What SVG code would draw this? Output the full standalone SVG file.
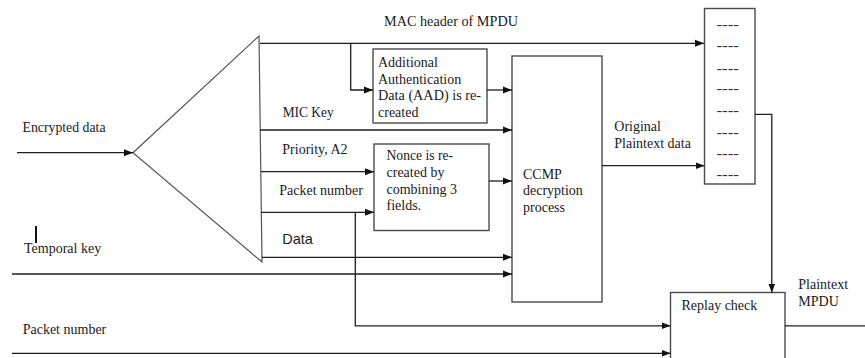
<svg xmlns="http://www.w3.org/2000/svg" width="865" height="358" viewBox="0 0 865 358">
  <style>
    .bg { fill: #ffffff; }
    .box { fill: #ffffff; stroke: #4a4a4a; stroke-width: 1.4; }
    .wire { fill: none; stroke: #1e1e1e; stroke-width: 1.3; }
    .tri { fill: #ffffff; stroke: #555555; stroke-width: 1.2; }
    .t { font-family: "Liberation Serif", "Times New Roman", serif; font-size: 14px; fill: #1a1a1a; }
    .s { font-family: "Liberation Sans", Arial, sans-serif; font-size: 14.5px; fill: #1a1a1a; }
    .dash { font-family: "Liberation Serif", "Times New Roman", serif; font-size: 15px; fill: #333333; }
  </style>
  <defs>
    <marker id="arrow" markerWidth="10" markerHeight="8" refX="9" refY="4" orient="auto" markerUnits="userSpaceOnUse">
      <path d="M0,0.5 L9,4 L0,7.5 Z" fill="#111111"/>
    </marker>
  </defs>

  <rect class="bg" x="0" y="0" width="865" height="358"/>

  <!-- splitter: the incoming frame is fanned out into its fields -->
  <g id="splitter">
    <polygon class="tri" points="133,152.7 259,36 262,262"/>
  </g>

  <!-- AAD reconstruction -->
  <g id="aad">
    <rect class="box" x="373" y="49" width="114" height="74"/>
    <text class="t" font-size="13" x="378" y="66.5">Additional</text>
    <text class="t" font-size="13" x="378" y="83.5">Authentication</text>
    <text class="t" font-size="13" x="378" y="100" textLength="103" lengthAdjust="spacingAndGlyphs">Data (AAD) is re-</text>
    <text class="t" font-size="13" x="378" y="117">created</text>
  </g>

  <!-- nonce reconstruction -->
  <g id="nonce">
    <rect class="box" x="374" y="144" width="115" height="86.5"/>
    <text class="t" x="386.5" y="159.5" textLength="66.5" lengthAdjust="spacingAndGlyphs">Nonce is re-</text>
    <text class="t" x="386.5" y="176.5">created by</text>
    <text class="t" x="386.5" y="193.5">combining 3</text>
    <text class="t" x="386.5" y="210">fields.</text>
  </g>

  <!-- CCMP decryption -->
  <g id="ccmp">
    <rect class="box" x="512" y="56" width="90" height="246"/>
    <text class="t" x="523" y="178.5">CCMP</text>
    <text class="t" x="523" y="195">decryption</text>
    <text class="t" x="523" y="211.5">process</text>
  </g>

  <!-- reassembled MPDU fields -->
  <g id="mpdu">
    <rect class="box" x="704.5" y="8.5" width="50.5" height="175.5"/>
    <text class="dash" x="716.5" y="29" textLength="22.5" lengthAdjust="spacingAndGlyphs">----</text>
    <text class="dash" x="716.5" y="50" textLength="22.5" lengthAdjust="spacingAndGlyphs">----</text>
    <text class="dash" x="716.5" y="72.5" textLength="22.5" lengthAdjust="spacingAndGlyphs">----</text>
    <text class="dash" x="716.5" y="93" textLength="22.5" lengthAdjust="spacingAndGlyphs">----</text>
    <text class="dash" x="716.5" y="115" textLength="22.5" lengthAdjust="spacingAndGlyphs">----</text>
    <text class="dash" x="716.5" y="136.5" textLength="22.5" lengthAdjust="spacingAndGlyphs">----</text>
    <text class="dash" x="716.5" y="158" textLength="22.5" lengthAdjust="spacingAndGlyphs">----</text>
    <text class="dash" x="716.5" y="179" textLength="22.5" lengthAdjust="spacingAndGlyphs">----</text>
  </g>

  <!-- replay protection -->
  <g id="replay">
    <rect class="box" x="670.5" y="292.5" width="114.5" height="80"/>
    <text class="t" x="681.5" y="309.5">Replay check</text>
  </g>

  <!-- connectors -->
  <g id="connectors">
    <path class="wire" d="M17,152.7 H133" marker-end="url(#arrow)"/>
    <path class="wire" d="M260,43.3 H704" marker-end="url(#arrow)"/>
    <path class="wire" d="M350.7,43.3 V90 H373" marker-end="url(#arrow)"/>
    <path class="wire" d="M487,90 H512" marker-end="url(#arrow)"/>
    <path class="wire" d="M260,130 H512" marker-end="url(#arrow)"/>
    <path class="wire" d="M261,171.7 H374" marker-end="url(#arrow)"/>
    <path class="wire" d="M261,212.3 H374" marker-end="url(#arrow)"/>
    <path class="wire" d="M489,181 H512" marker-end="url(#arrow)"/>
    <path class="wire" d="M355.3,212.3 V325.8 H670.5" marker-end="url(#arrow)"/>
    <path class="wire" d="M262,257.3 H512" marker-end="url(#arrow)"/>
    <path class="wire" d="M12,274 H512" marker-end="url(#arrow)"/>
    <path class="wire" d="M602,165.7 H704.5" marker-end="url(#arrow)"/>
    <path class="wire" d="M755,114.3 H771.8 V292.5" marker-end="url(#arrow)"/>
    <path class="wire" d="M12,353.3 H670.5" marker-end="url(#arrow)"/>
    <path class="wire" d="M785,325.8 H865"/>
    <line x1="36" y1="226" x2="36" y2="243" stroke="#111111" stroke-width="2"/>
  </g>

  <!-- field and signal labels -->
  <g id="labels">
    <text class="t" x="22.5" y="131.7" textLength="83" lengthAdjust="spacingAndGlyphs">Encrypted data</text>
    <text class="t" x="24" y="253">Temporal key</text>
    <text class="t" x="22.7" y="333.5">Packet number</text>
    <text class="t" x="384" y="26" textLength="134" lengthAdjust="spacingAndGlyphs">MAC header of MPDU</text>
    <text class="t" x="282.7" y="116.7" textLength="51" lengthAdjust="spacingAndGlyphs">MIC Key</text>
    <text class="t" x="282.3" y="154">Priority, A2</text>
    <text class="t" x="279.3" y="195">Packet number</text>
    <text class="s" x="282.3" y="243.5">Data</text>
    <text class="t" x="614.3" y="130.7">Original</text>
    <text class="t" x="614.3" y="148.3">Plaintext data</text>
    <text class="t" x="798.3" y="289">Plaintext</text>
    <text class="t" x="798.3" y="306">MPDU</text>
  </g>
</svg>
